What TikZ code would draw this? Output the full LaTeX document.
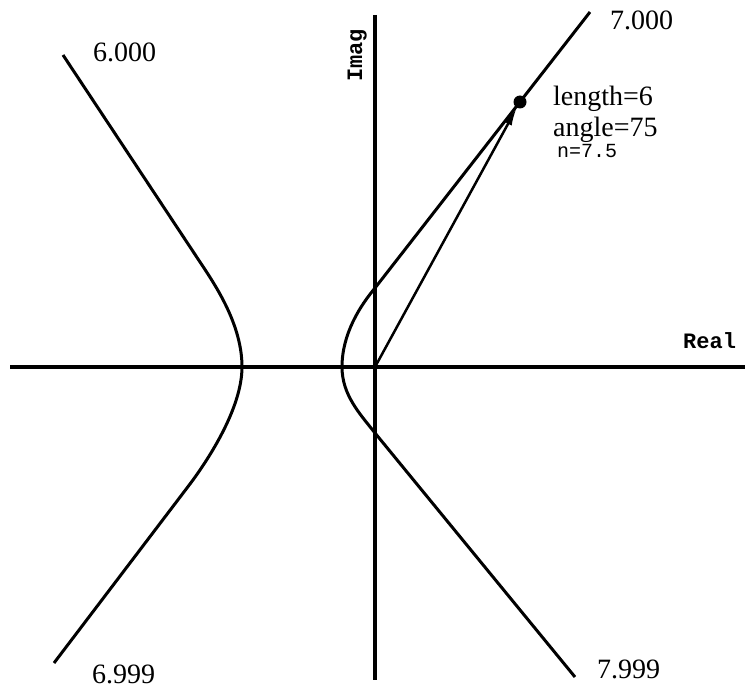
\documentclass[tikz,border=0pt]{standalone}
\usepackage{fontspec}
\setmainfont{Liberation Serif}
\setmonofont{Liberation Mono}
\usetikzlibrary{arrows.meta,positioning}

\begin{document}
\begin{tikzpicture}[x=1pt,y=-1pt,>={Latex[length=18pt,width=8pt]},
  val/.style={inner sep=0pt,anchor=base west,font=\fontsize{28}{30}\selectfont},
  axlabel/.style={inner sep=0pt,anchor=base west,font=\fontsize{22}{24}\selectfont\ttfamily\bfseries},
  curve/.style={line width=3pt,line join=round}]
\useasboundingbox (0,0) rectangle (745,690);
% axes
\coordinate (o) at (375,367);
\coordinate (xl) at (10,367);
\coordinate (xr) at (745,367);
\coordinate (yt) at (375,15);
\coordinate (yb) at (375,680);
\draw[line width=3.5pt] (xl) -- (xr);
\draw[line width=4.5pt] (yt) -- (yb);
\node (real) [axlabel] at (683,348) {Real};
\node (imag) [axlabel,rotate=90] at (362,82) {Imag};
% left branch
\coordinate (lt) at (63,55);
\coordinate (lb) at (54,663);
\draw[curve] (lt) -- (200,262) .. controls (216,286) and (242,325) .. (242,367)
  .. controls (242,410) and (205,464) .. (190,484) -- (lb);
% right branch
\coordinate (rt) at (590,12);
\coordinate (rb) at (575,677);
\draw[curve] (rt) -- (375,288) .. controls (360,306) and (342,334) .. (342,367)
  .. controls (342,395) and (360,414) .. (375,433) -- (rb);
% vector
\node (dot) [circle,fill,inner sep=0pt,minimum size=13pt] at (520,102) {};
\draw[->,line width=2.5pt] (o) -- (dot);
\node (len) [val] at (553,106) {length=6};
\node (ang) [val] at (553,137) {angle=75};
\node (n) [inner sep=0pt,anchor=base west,font=\fontsize{20}{22}\selectfont\ttfamily] at (557,158) {n=7.5};
% branch labels
\node (v1) [val] at (93,62) {6.000};
\node (v2) [val] at (92,683) {6.999};
\node (v3) [val] at (610,30) {7.000};
\node (v4) [val] at (597,678) {7.999};
\end{tikzpicture}
\end{document}
